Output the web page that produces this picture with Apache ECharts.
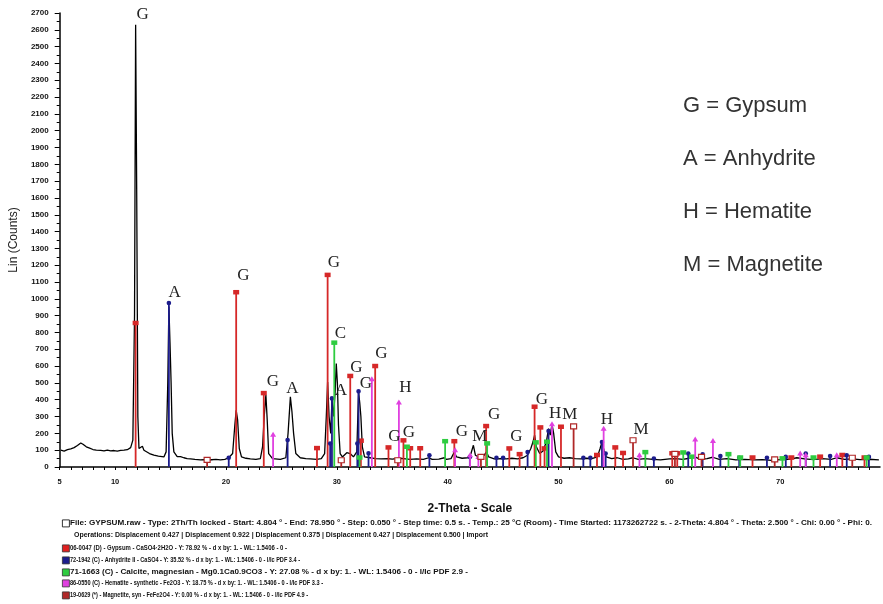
<!DOCTYPE html>
<html><head><meta charset="utf-8">
<script src="https://cdn.jsdelivr.net/npm/echarts@6/dist/echarts.min.js"></script>
<style>html,body{margin:0;padding:0;background:#fff}#c{width:883px;height:604px}</style>
</head><body><div id="c"></div>
<script>
// ---- data (2-theta degrees, counts) ----
const xTickLabels = [5, 10, 20, 30, 40, 50, 60, 70];
const scanCounts = [
 [5.1,100],[5.4,95],[5.7,103],[6.0,108],[6.3,115],[6.6,128],[6.9,143],[7.1,135],[7.4,120],[7.7,112],[8.0,104],[8.3,100],[8.7,99],[9.0,96],[9.3,101],[9.6,96],[9.9,98],[10.2,95],[10.5,99],[10.8,100],[11.1,103],[11.4,115],[11.6,160],[11.75,900],[11.85,2630],[11.95,1600],[12.05,300],[12.15,110],[12.3,100],[12.46,123],[12.6,100],[12.75,93],[13.1,80],[13.5,70],[13.9,65],[14.4,60],[14.6,90],[14.75,500],[14.85,955],[14.95,740],[15.05,500],[15.15,200],[15.3,90],[15.6,62],[15.9,62],[16.2,55],[16.5,50],[16.8,48],[17.2,45],[17.7,42],[18.0,44],[18.3,40],[18.7,43],[19.1,45],[19.5,42],[19.9,45],[20.25,55],[20.6,80],[20.8,250],[20.92,337],[21.05,280],[21.2,110],[21.4,60],[21.8,52],[22.2,48],[22.7,45],[23.1,50],[23.3,120],[23.45,300],[23.6,430],[23.72,280],[23.85,80],[24.2,50],[24.9,45],[25.4,55],[25.6,200],[25.81,417],[25.95,330],[26.1,200],[26.3,80],[26.7,55],[27.2,50],[27.6,48],[28.2,45],[28.6,50],[28.9,80],[29.05,300],[29.17,506],[29.3,300],[29.45,200],[29.56,400],[29.7,300],[29.85,450],[29.95,615],[30.05,500],[30.15,250],[30.3,80],[30.5,60],[30.9,85],[31.05,95],[31.2,80],[31.5,60],[31.8,90],[31.96,446],[32.07,380],[32.17,300],[32.3,120],[32.5,60],[33.0,55],[33.5,50],[34.0,48],[34.6,50],[35.0,47],[35.6,52],[36.0,50],[36.6,45],[37.2,48],[37.8,45],[38.3,55],[38.6,45],[39.2,47],[39.7,55],[39.9,45],[40.3,50],[40.6,89],[40.8,60],[41.3,52],[41.8,55],[42.1,80],[42.32,129],[42.5,70],[42.9,55],[43.3,70],[43.5,90],[43.7,60],[44.2,48],[44.8,50],[45.3,48],[45.8,52],[46.3,48],[46.8,55],[47.2,70],[47.5,110],[47.7,150],[47.84,189],[48.0,120],[48.3,80],[48.6,95],[48.9,150],[49.1,228],[49.25,190],[49.41,254],[49.56,200],[49.75,90],[50.0,60],[50.5,52],[51.0,55],[51.5,50],[52.0,48],[52.5,52],[53.0,50],[53.5,60],[53.75,110],[53.92,149],[54.1,100],[54.3,60],[54.8,50],[55.3,55],[55.8,45],[56.3,48],[56.7,55],[57.2,45],[57.8,50],[58.5,45],[59.2,42],[60.0,48],[60.6,50],[61.2,45],[61.8,52],[62.3,60],[62.8,45],[63.4,50],[63.9,58],[64.5,45],[65.2,50],[66.0,42],[66.8,45],[67.6,42],[68.4,44],[69.2,40],[70.0,44],[70.8,46],[71.5,55],[72.2,48],[73.0,44],[73.8,50],[74.6,45],[75.1,55],[75.8,45],[76.5,48],[77.2,44],[78.0,46],[78.9,42]
];
const gypsumSticks = [[11.85,855],[20.92,1038],[23.41,438],[28.21,111],[29.17,1141],[31.21,540],[32.17,155],[33.46,599],[34.66,115],[36.01,157],[36.62,110],[37.52,110],[40.60,152],[43.47,242],[45.56,109],[46.49,75],[47.84,357],[48.36,234],[48.74,109],[50.22,238],[53.47,70],[55.12,115],[55.82,82],[60.26,80],[60.71,80],[67.5,55],[71.0,55],[73.6,60],[75.6,70],[77.6,55]];
const anhydriteSticks = [[14.85,975],[20.25,55],[25.56,160],[29.40,140],[29.56,408],[31.85,140],[31.96,450],[32.86,82],[38.35,70],[42.0,60],[44.4,55],[45.0,55],[47.21,89],[49.10,214],[52.24,55],[52.87,55],[53.92,149],[54.25,80],[58.6,50],[61.7,80],[63.0,75],[64.6,65],[66.3,55],[68.8,55],[70.5,60],[72.3,80],[74.5,65],[76.0,70],[78.0,60]];
const calciteSticks = [[29.77,738],[32.05,55],[36.32,119],[39.77,152],[43.56,139],[47.95,145],[48.96,149],[57.83,87],[61.25,85],[62.04,60],[65.33,75],[66.39,55],[70.2,50],[73.0,55],[77.8,55]];
const hematiteSticks = [[24.25,192],[33.16,522],[35.60,384],[40.67,100],[42.02,70],[42.77,60],[49.41,254],[54.07,228],[57.3,70],[62.33,163],[63.93,155],[71.8,81],[72.3,70],[75.1,70]];
const magnetiteSticks = [[18.30,42],[30.40,40],[35.50,40],[43.0,60],[51.36,242],[56.72,159],[60.5,78],[62.9,60],[69.5,45],[76.5,55]];
const peakLabels = [
 [12.48,2689,'G'],[15.36,1040,'A'],[21.58,1141,'G'],[24.24,510,'G'],[26.0,469,'A'],[29.74,1218,'G'],[30.32,793,'C'],[30.37,457,'A'],[31.77,593,'G'],[32.62,495,'G'],[34.02,674,'G'],[36.18,474,'H'],[35.19,179,'G'],[36.50,207,'G'],[41.29,212,'G'],[42.90,180,'M'],[44.20,314,'G'],[46.19,183,'G'],[48.5,401,'G'],[49.70,318,'H'],[51.01,314,'M'],[54.36,282,'H'],[57.45,224,'M']
];
const phaseLegend = ['G = Gypsum', 'A = Anhydrite', 'H = Hematite', 'M = Magnetite'];
const footerLines = [
 'File: GYPSUM.raw - Type: 2Th/Th locked - Start: 4.804 ° - End: 78.950 ° - Step: 0.050 ° - Step time: 0.5 s. - Temp.: 25 °C (Room) - Time Started: 1173262722 s. - 2-Theta: 4.804 ° - Theta: 2.500 ° - Chi: 0.00 ° - Phi: 0.',
 'Operations: Displacement 0.427 | Displacement 0.922 | Displacement 0.375 | Displacement 0.427 | Displacement 0.500 | Import',
 '06-0047 (D) - Gypsum - CaSO4·2H2O - Y: 78.92 % - d x by: 1. - WL: 1.5406 - 0 -',
 '72-1942 (C) - Anhydrite II - CaSO4 - Y: 35.52 % - d x by: 1. - WL: 1.5406 - 0 - I/Ic PDF 3.4 -',
 '71-1663 (C) - Calcite, magnesian - Mg0.1Ca0.9CO3 - Y: 27.08 % - d x by: 1. - WL: 1.5406 - 0 - I/Ic PDF 2.9 -',
 '86-0550 (C) - Hematite - synthetic - Fe2O3 - Y: 18.75 % - d x by: 1. - WL: 1.5406 - 0 - I/Ic PDF 3.3 -',
 '19-0629 (*) - Magnetite, syn - FeFe2O4 - Y: 0.00 % - d x by: 1. - WL: 1.5406 - 0 - I/Ic PDF 4.9 -'
];
const footerColors = ['#000', null, '#e02020', '#1c1c8c', '#2ecc40', '#e040e0', '#b02828'];

// ---- layout ----
const footerY = [523, 535, 548, 560, 572, 583, 595];
const footerStartX = [70, 74, 70, 70, 70, 70, 70];
const footerEndX = [872, 488, 287, 300, 468, 323, 308];
const footerFont = 'bold 7.5px "Liberation Sans", Arial, sans-serif';

// ---- chart ----
const chart = echarts.init(document.getElementById('c'), null, {renderer: 'canvas'});

function stickSeries(name, data, color, shape) {
  return {
    type: 'custom', name, data, z: 5,
    renderItem(params, api) {
      const x = api.value(0), h = api.value(1);
      const p0 = api.coord([x, 0]), p1 = api.coord([x, h]);
      const ch = [{type: 'line', shape: {x1: p0[0], y1: p0[1], x2: p1[0], y2: p1[1]}, style: {stroke: color, lineWidth: 1.8}}];
      const cx = p1[0], cy = p1[1];
      if (shape === 'square') ch.push({type: 'rect', shape: {x: cx - 3, y: cy - 2.5, width: 6, height: 4.5}, style: {fill: color}});
      else if (shape === 'dot') ch.push({type: 'circle', shape: {cx, cy, r: 2.3}, style: {fill: color}});
      else if (shape === 'tri') ch.push({type: 'polygon', shape: {points: [[cx, cy - 3], [cx - 3, cy + 2], [cx + 3, cy + 2]]}, style: {fill: color}});
      else ch.push({type: 'rect', shape: {x: cx - 3, y: cy - 2.5, width: 6, height: 5}, style: {fill: '#fff', stroke: color, lineWidth: 1.2}});
      return {type: 'group', children: ch};
    }
  };
}

const measureCtx = document.createElement('canvas').getContext('2d');
measureCtx.font = footerFont;

const graphics = [];
phaseLegend.forEach((t, i) => graphics.push({type: 'text', left: 683, top: 95 + i * 53,
  style: {text: t, font: '22px "Liberation Sans", Arial, sans-serif', fill: '#333'}}));
footerLines.forEach((t, i) => {
  const y = footerY[i];
  const w = measureCtx.measureText(t).width;
  const sx = (footerEndX[i] - footerStartX[i]) / w;
  graphics.push({type: 'text', x: footerStartX[i], y: y, scaleX: sx,
    style: {text: t, font: footerFont, fill: '#111', verticalAlign: 'middle', align: 'left'}});
  if (footerColors[i]) {
    graphics.push({type: 'rect', left: 62, top: y - 3.5, shape: {width: 7, height: 7},
      style: {fill: i === 0 ? '#fff' : footerColors[i], stroke: i === 0 ? '#000' : '#333', lineWidth: 0.8}});
  }
});

chart.setOption({
  animation: false,
  backgroundColor: '#fff',
  grid: {left: 59, right: 3, top: 13, bottom: 137},
  xAxis: {
    type: 'value', min: 5, max: 79, interval: 1,
    name: '2-Theta - Scale', nameLocation: 'middle', nameGap: 36,
    nameTextStyle: {fontFamily: 'Liberation Sans', fontWeight: 'bold', fontSize: 12, color: '#111'},
    axisLine: {show: true, lineStyle: {color: '#000', width: 1.5}},
    axisTick: {show: true, length: 3, lineStyle: {color: '#000'}},
    axisLabel: {show: true, margin: 11, fontSize: 7.5, fontWeight: 'bold', color: '#111', fontFamily: 'Liberation Sans',
      showMaxLabel: false,
      formatter: v => xTickLabels.includes(Math.round(v)) && Math.abs(v - Math.round(v)) < 1e-6 ? String(Math.round(v)) : ''},
    splitLine: {show: false}
  },
  yAxis: {
    type: 'value', min: 0, max: 2700, interval: 100,
    name: 'Lin (Counts)', nameLocation: 'middle', nameGap: 36,
    nameTextStyle: {fontFamily: 'Liberation Sans', fontSize: 12, color: '#222'},
    axisLine: {show: true, lineStyle: {color: '#000', width: 1.5}},
    axisTick: {show: true, length: 5, lineStyle: {color: '#000'}},
    minorTick: {show: true, splitNumber: 2, length: 3, lineStyle: {color: '#000'}},
    axisLabel: {margin: 11, fontSize: 8, fontWeight: 'bold', color: '#111', fontFamily: 'Liberation Sans', formatter: v => String(v)},
    splitLine: {show: false}
  },
  series: [
    {type: 'line', data: scanCounts, symbol: 'none', z: 3, lineStyle: {color: '#000', width: 1.3}},
    stickSeries('Gypsum', gypsumSticks, '#d62828', 'square'),
    stickSeries('Anhydrite', anhydriteSticks, '#1c1c8c', 'dot'),
    stickSeries('Calcite', calciteSticks, '#2ecc40', 'square'),
    stickSeries('Hematite', hematiteSticks, '#e040e0', 'tri'),
    stickSeries('Magnetite', magnetiteSticks, '#b02828', 'box'),
    {
      type: 'custom', data: peakLabels, z: 6,
      renderItem(params, api) {
        const p = api.coord([api.value(0), api.value(1)]);
        return {type: 'text', x: p[0], y: p[1],
          style: {text: peakLabels[params.dataIndex][2], font: '17px "Liberation Serif", "Times New Roman", serif', fill: '#222', align: 'center', verticalAlign: 'middle'}};
      }
    }
  ],
  graphic: graphics
});
</script></body></html>
